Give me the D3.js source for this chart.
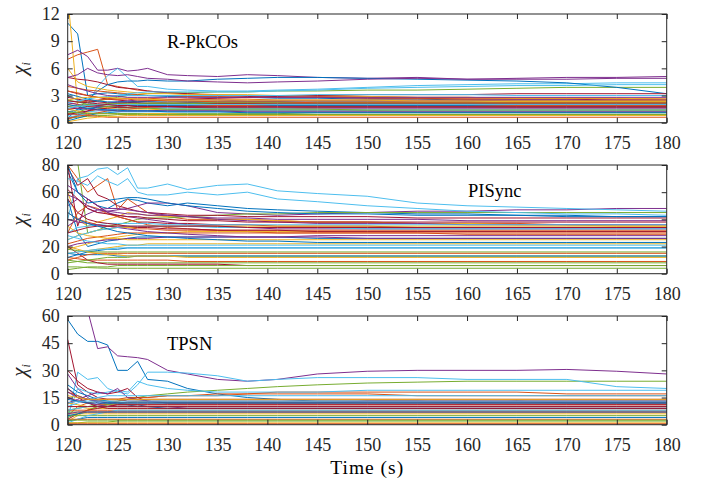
<!DOCTYPE html>
<html><head><meta charset="utf-8">
<script src="https://cdn.jsdelivr.net/npm/d3@7"></script>
<style>body{margin:0;background:#fff}svg{display:block}</style>
</head><body><svg id="c" width="710" height="479"></svg>
<script>
const times = [120,121,122,123,124,125,126,127,128,130,132,135,138,141,145,150,155,160,165,170,175,180];
const xTicks = [120,125,130,135,140,145,150,155,160,165,170,175,180];
const colors = ["#0072BD","#D95319","#EDB120","#7E2F8E","#77AC30","#4DBEEE","#A2142F"];
const panelNames = ["R-PkCOs","PISync","TPSN"];
const yTicks1 = [0,3,6,9,12];
const yTicks2 = [0,20,40,60,80];
const yTicks3 = [0,15,30,45,60];

const rpkcos = [
[11,9.8,3,3.2,3.3,3.2,3.1,3,3,2.9,2.9,2.8,2.8,2.7,2.7,2.6,2.6,2.5,2.5,2.5,2.4,2.4],
[7,7.5,7.8,8.1,4.2,4,3.8,3.6,3.5,3.3,3.2,3.1,3,3,2.9,2.9,2.8,2.8,2.7,2.7,2.7,2.6],
[14,2,1.8,1.7,1.6,1.6,1.5,1.5,1.5,1.4,1.4,1.4,1.3,1.3,1.3,1.3,1.2,1.2,1.2,1.2,1.2,1.2],
[7.5,8,7.3,5.8,5.8,6,5.7,5.8,6,5.3,5.2,5.1,5.3,5.2,5,4.9,5,4.8,4.9,5,5,5.1],
[3,2.5,2.2,2.4,2.6,2.8,3,3.1,3.2,3.3,3.3,3.4,3.4,3.5,3.5,3.6,3.6,3.7,3.8,3.9,3.9,3.9],
[1,1.5,2,4,5.2,6,5,4,4,3.7,3.6,3.5,3.5,3.6,3.7,3.9,4.1,4.2,4.3,4.3,4.4,4.4],
[5,4.8,4.7,4.5,4.2,3.9,3.8,3.7,3.5,3.3,3.2,3,2.9,2.8,2.8,2.7,2.7,2.6,2.6,2.6,2.5,2.5],
[0.5,1.5,2.5,3.5,4.2,4.5,4.6,4.6,4.7,4.6,4.6,4.8,4.9,5,5,4.9,4.8,4.7,4.6,4.4,3.9,3.2],
[4,3.8,3.6,3.5,3.4,3.3,3.2,3.1,3,3,2.9,2.9,2.8,2.8,2.8,2.8,2.7,2.7,2.7,2.7,2.6,2.6],
[6,4.5,4,3.8,3.6,3.5,3.4,3.3,3.2,3.2,3.1,3.1,3.1,3,3,2.9,2.8,2.8,2.7,2.7,2.7,2.6],
[5,5.3,6,5.5,5.3,5.2,5.3,5.1,4.9,4.8,4.6,4.5,4.4,4.5,4.6,4.8,4.9,4.8,4.8,4.8,4.9,4.9],
[1,1.2,1.5,1.7,1.8,1.9,2,2,2.1,2.1,2.2,2.2,2.2,2.2,2.3,2.3,2.3,2.3,2.3,2.3,2.3,2.3],
[3,2.5,2,2.4,2.8,3,3.2,3.3,3.4,3.4,3.4,3.4,3.4,3.5,3.6,3.8,3.9,4,4.1,4.1,4.2,4.2],
[3.5,3.2,3,2.8,2.6,2.5,2.4,2.3,2.3,2.2,2.2,2.1,2.1,2,2,2,2,2,2,2,2,2],
[1.2,1.4,1.6,1.7,1.8,1.8,1.9,1.9,1.9,1.9,1.9,1.9,1.9,1.9,1.9,1.9,1.9,1.9,1.9,1.9,1.9,1.9],
[2,2.2,2.4,2.5,2.6,2.6,2.7,2.7,2.7,2.6,2.6,2.6,2.6,2.5,2.5,2.5,2.5,2.5,2.4,2.4,2.4,2.4],
[0.3,0.8,1.2,1.5,1.7,1.9,2,2.1,2.2,2.2,2.3,2.4,2.4,2.4,2.4,2.4,2.3,2.3,2.3,2.3,2.3,2.3],
[2.2,2,1.9,1.8,1.8,1.8,1.7,1.7,1.7,1.7,1.7,1.6,1.6,1.6,1.6,1.6,1.6,1.6,1.6,1.6,1.6,1.6],
[0.5,0.6,0.7,0.8,0.8,0.9,0.9,0.9,1,1,1,1,1,1,1.1,1.1,1.1,1.1,1.1,1.1,1.1,1.1],
[0.8,1,1.2,1.3,1.4,1.5,1.5,1.6,1.6,1.6,1.6,1.6,1.6,1.6,1.7,1.7,1.7,1.7,1.7,1.7,1.7,1.7],
[2.8,2.6,2.4,2.3,2.2,2.2,2.2,2.2,2.1,2.1,2.1,2.1,2.1,2.1,2.1,2.1,2.1,2.1,2.1,2.1,2.1,2.1],
[0.2,0.5,0.8,1,1.1,1.2,1.3,1.3,1.3,1.4,1.4,1.4,1.4,1.4,1.4,1.4,1.4,1.4,1.4,1.4,1.4,1.4],
[1,0.9,0.8,0.7,0.6,0.6,0.6,0.6,0.6,0.6,0.6,0.6,0.6,0.6,0.6,0.6,0.6,0.6,0.6,0.6,0.6,0.6],
[1.5,1.3,1.1,1,1,1,1,1,1,1,0.9,0.9,0.9,0.9,0.9,0.9,0.9,0.9,0.9,0.9,0.9,0.9],
[0.4,0.8,1.3,1.8,2.1,2.3,2.4,2.5,2.5,2.5,2.5,2.5,2.4,2.4,2.4,2.4,2.4,2.4,2.5,2.5,2.5,2.5],
[2.5,2.3,2,1.9,1.8,1.7,1.7,1.6,1.6,1.5,1.5,1.5,1.5,1.5,1.5,1.4,1.4,1.4,1.4,1.4,1.4,1.4],
[0.6,0.8,1,1.1,1.2,1.2,1.2,1.2,1.2,1.2,1.2,1.2,1.2,1.2,1.2,1.2,1.2,1.2,1.2,1.2,1.2,1.2],
[1.5,1.6,1.8,1.9,2,2.1,2.2,2.3,2.4,2.5,2.6,2.7,2.8,2.9,3,3.1,3.1,3.1,3.2,3.2,3.2,3.2],
[3.2,2.9,2.6,2.4,2.3,2.3,2.3,2.3,2.3,2.3,2.3,2.3,2.3,2.3,2.2,2.2,2.2,2.2,2.2,2.2,2.2,2.2],
[0.5,0.7,0.9,1.1,1.3,1.4,1.5,1.6,1.7,1.8,1.8,1.9,1.9,2,2,2,2,2,1.9,1.9,1.9,1.9],
[0.1,0.3,0.5,0.6,0.7,0.7,0.8,0.8,0.8,0.8,0.8,0.8,0.8,0.8,0.8,0.8,0.8,0.8,0.8,0.8,0.8,0.8],
[1.8,1.6,1.5,1.4,1.4,1.3,1.3,1.3,1.3,1.3,1.3,1.3,1.2,1.2,1.2,1.2,1.2,1.2,1.2,1.2,1.2,1.2],
[1.8,1.9,2,2,2.1,2.1,2.1,2.1,2.1,2.1,2.1,2.2,2.2,2.2,2.2,2.2,2.2,2.2,2.2,2.2,2.2,2.2],
[2.2,2.4,2.6,2.8,2.9,3,3,3,3,3,3,3,3,3,3.1,3.1,3.1,3.1,3,3,3,3],
[0.9,1.1,1.3,1.5,1.6,1.7,1.7,1.8,1.8,1.8,1.8,1.8,1.8,1.8,1.8,1.8,1.8,1.8,1.8,1.8,1.8,1.8],
[2,1.8,1.6,1.5,1.4,1.4,1.3,1.3,1.3,1.2,1.2,1.2,1.1,1.1,1.1,1.1,1.1,1.1,1.1,1.1,1.1,1.1],
[3.5,3.3,3,2.8,2.7,2.6,2.6,2.5,2.5,2.4,2.4,2.3,2.3,2.3,2.2,2.2,2.2,2.2,2.2,2.2,2.2,2.2],
[2.5,2.7,2.8,2.8,2.8,2.7,2.7,2.6,2.6,2.5,2.5,2.5,2.5,2.5,2.5,2.5,2.4,2.4,2.4,2.4,2.4,2.4],
[4.2,3.8,3.5,3.2,3,2.9,2.8,2.8,2.8,2.8,2.8,2.8,2.8,2.8,2.8,2.8,2.8,2.8,2.8,2.8,2.8,2.8],
[1.2,1.1,1,1,1,1,1,1,0.9,0.9,0.9,0.9,0.9,0.9,0.9,0.9,0.9,0.9,0.9,0.9,0.9,0.9],
[1.6,1.8,1.9,2,2,2,2,2,2,2,2,2,2,2,2,2,2,2,2,2,2,2],
[2.4,2.3,2.2,2.1,2,1.9,1.9,1.8,1.8,1.8,1.7,1.7,1.7,1.7,1.7,1.7,1.7,1.7,1.7,1.7,1.7,1.7]
];

const pisync = [
[75,60,55,50,48,52,55,54,52,50,52,50,48,47,46,45,44,44,43,43,42,42],
[80,70,60,65,70,47,55,50,45,42,40,40,40,39,38,38,37,37,37,36,36,36],
[60,40,35,38,40,42,45,44,43,42,42,40,40,39,38,38,37,37,36,36,35,35],
[50,55,48,45,46,47,48,50,52,52,50,45,44,43,44,45,46,46,47,47,48,48],
[85,82,30,32,35,36,38,40,41,41,42,43,44,44,45,45,45,45,45,45,45,45],
[40,70,72,77,78,73,78,63,63,66,62,65,66,61,59,57,52,50,49,48,47,46],
[80,35,55,50,45,42,40,38,38,37,37,36,36,35,35,35,34,34,34,34,34,34],
[55,30,20,22,24,25,26,27,27,27,27,27,27,27,26,26,26,26,26,26,26,26],
[30,45,50,48,44,42,40,38,36,34,33,32,31,30,30,30,30,29,29,29,29,29],
[18,20,22,24,26,27,28,29,30,30,31,31,31,31,31,31,31,31,31,31,31,31],
[65,60,55,50,45,43,42,41,40,38,36,35,34,33,33,33,33,33,33,33,33,33],
[5,5,4.5,4.2,4,4,4,4,4,4,4,4,4,4,4,4,4,4,4,4,4,4],
[70,68,65,72,68,65,70,60,58,58,60,58,60,55,53,50,48,46,45,44,44,43],
[78,65,70,58,55,50,48,46,45,44,43,43,42,42,42,42,41,41,41,41,41,41],
[80,60,52,53,54,55,56,56,55,52,50,48,46,45,44,44,43,43,43,42,42,42],
[12,11,10,10,10,10,10,10,10,10,9,9,9,9,9,9,9,9,9,9,9,9],
[15,16,17,18,19,20,21,21,22,22,22,22,22,22,22,22,22,22,22,22,22,22],
[35,40,44,47,48,48,47,46,45,43,42,40,39,38,37,37,37,36,36,36,36,36],
[10,9,8,8,8,8,8,8,8,8,8,8,8,8,8,8,8,8,8,8,8,8],
[30,34,35,36,37,37,37,37,37,36,36,36,36,36,36,36,36,36,36,36,36,36],
[20,15,10,8,7,7,7,7,7,7,7,7,6,6,6,6,6,6,6,6,6,6],
[12,14,16,17,18,18,19,19,19,19,19,19,19,19,19,19,19,19,19,19,19,19],
[45,40,38,36,35,34,34,33,33,32,32,32,32,32,32,32,32,32,32,32,32,32],
[25,28,30,32,33,34,34,34,35,35,35,35,35,35,35,35,35,35,35,35,35,35],
[20,22,23,24,25,25,26,26,26,27,27,27,27,27,28,28,28,28,28,28,28,28],
[8,9,10,11,12,12,12,13,13,13,13,13,13,13,13,13,13,13,13,13,13,13],
[28,26,24,23,22,22,21,21,21,21,21,21,21,21,21,21,21,21,21,21,21,21],
[55,45,40,38,37,36,35,34,34,33,33,32,32,32,31,31,31,31,31,31,31,31],
[15,14,14,14,14,13,13,13,13,13,13,13,13,13,13,13,13,13,13,13,13,13],
[22,24,26,27,28,29,30,30,30,30,30,30,30,30,30,30,30,30,30,30,30,30],
[35,30,28,27,26,26,25,25,25,25,25,25,25,25,25,25,25,25,25,25,25,25],
[40,38,37,36,35,34,33,32,31,30,29,28,27,27,27,26,26,26,26,26,26,26],
[18,17,16,16,16,16,16,16,16,16,16,16,16,16,16,16,16,16,16,16,16,16],
[25,28,30,32,33,34,35,35,35,35,35,34,34,34,34,33,33,33,33,33,33,33],
[30,32,34,35,35,35,35,35,35,35,35,35,34,34,34,34,34,34,34,34,34,34],
[45,40,37,35,33,31,30,29,28,27,26,25,24,24,23,23,23,23,23,23,23,23],
[10,12,14,15,15,15,15,15,15,15,15,15,15,15,15,15,15,15,15,15,15,15],
[20,18,16,15,14,14,13,13,13,13,12,12,12,12,12,12,12,12,12,12,12,12],
[58,55,50,47,46,45,44,44,43,43,42,41,41,40,40,40,40,39,39,39,39,39],
[3,4,5,5,5,6,6,6,6,6,6,6,6,6,6,6,6,6,6,6,6,6],
[15,16,17,18,18,19,19,19,19,19,19,19,19,19,19,19,19,19,19,19,19,19],
[62,55,48,45,44,43,42,42,41,40,39,39,38,38,38,38,38,38,38,38,38,38]
];

const tpsn = [
[58,50,46,46,44,30,30,35,25,24,20,17,15,14,13,13,13,12,13,12,12,12],
[5,10,12,13,14,14,15,15,15,16,16,17,17,17,17,17,16,16,16,16,16,16],
[2,5,8,10,11,12,12,13,13,13,13,13,13,13,13,13,13,13,13,13,13,13],
[110,85,63,42,43,38,37.5,37,36,30,28,25,24,25,28,29.5,30,30,30,30.5,29.5,28],
[8,9,10,11,12,13,14,15,16,17,18,19,20,21,22,23,23.5,24,24,24,24,24],
[2,29,25,26,20,18,17,22,29,29,28.5,27,24,25,26,26,26,25,25,25,21,20],
[47,22,18,15,14,14,13,13,13,12,12,12,12,12,12,12,12,12,12,12,12,12],
[20,16,14,13,12,11,11,10,10,10,10,10,10,10,10,10,10,10,10,10,10,10],
[18,16,14,13,13,13,14,15,15,16,16,16,17,18,18,18,18,18,18,17,17,17],
[10,10,9,9,9,9,9,9,9,9,9,9,9,9,9,9,9,9,9,9,9,9],
[28,20,15,12,11,10,10,10,10,10,9,9,9,9,9,9,9,9,9,9,9,9],
[1,1,1.5,1.5,1.5,2,2,2,2,2,2,2,2,2,2,2,2,2,2,2,2,2],
[5,20,18,17,18,19,18,24,22,20,19,18,18,18,18,19,19,19,19,19,19,19],
[30,24,20,18,17,18,20,15,13,12,12,12,12,12,12,13,13,13,13,13,13,13],
[22,18,16,14,13,12,11,11,10,9,9,9,9,9,9,9,9,9,9,9,9,9],
[15,13,12,11,11,11,11,11,11,11,11,11,11,11,11,11,11,11,11,11,11,11],
[12,11,10,10,10,10,10,10,10,10,10,10,10,10,10,10,10,10,10,10,10,10],
[12,14,16,18,17,20,15,14,13,13,13,13,13,13,13,13,13,13,13,13,13,13],
[4,6,8,10,11,12,12,12,12,12,12,12,12,12,12,12,12,12,12,12,12,12],
[10,12,14,15,16,16,16,16,16,16,16,16,16,16,16,16,16,16,16,16,16,16],
[3,6,8,9,10,11,11,11,11,11,11,11,11,11,11,11,11,11,11,11,11,11],
[2,3,4,4,4,4,4,4,4,4,4,4,4,4,4,4,4,4,4,4,4,4],
[8,8,8,8,8,8,8,8,8,8,8,8,8,8,8,8,8,8,8,8,8,8],
[6,6,6,6,6,6,6,6,6,6,6,6,6,6,6,6,6,6,6,6,6,6],
[15,13,12,11,10,10,10,10,10,10,10,10,10,10,10,10,10,10,10,10,10,10],
[5,5,5,5,5,5,5,5,5,5,5,5,5,5,5,5,5,5,5,5,5,5],
[1,3,5,6,7,8,8,8,8,8,8,8,8,8,8,8,8,8,8,8,8,8],
[20,15,12,10,9,9,9,9,9,9,9,9,9,9,9,9,9,9,9,9,9,9],
[5,6,7,7,7,7,7,7,7,7,7,7,7,7,7,7,7,7,7,7,7,7],
[3,3,3,3,3,3,3,3,3,3,3,3,3,3,3,3,3,3,3,3,3,3],
[1,1,1,1,1,1,1,1,1,1,1,1,1,1,1,1,1,1,1,1,1,1],
[18,15,14,13,12,12,12,12,12,12,12,12,12,12,12,12,12,12,12,12,12,12],
[7,7,7,7,7,7,7,7,7,7,7,7,7,7,7,7,7,7,7,7,7,7],
[8,9,10,10,10,10,10,10,10,10,10,10,10,10,10,10,10,10,10,10,10,10],
[12,13,14,14,14,14,14,14,14,14,14,14,14,14,14,14,14,14,14,14,14,14],
[14,13,12,12,12,12,12,12,12,12,12,12,12,12,12,12,12,12,12,12,12,12],
[0.5,0.5,0.5,0.5,0.5,0.5,0.5,0.5,0.5,0.5,0.5,0.5,0.5,0.5,0.5,0.5,0.5,0.5,0.5,0.5,0.5,0.5],
[16,15,14,14,14,14,14,14,14,14,14,14,14,14,14,14,14,14,14,14,14,14],
[6,7,7,7,7,7,7,7,7,7,7,7,7,7,7,7,7,7,7,7,7,7],
[2.5,2.5,2.5,2.5,2.5,2.5,2.5,2.5,2.5,2.5,2.5,2.5,2.5,2.5,2.5,2.5,2.5,2.5,2.5,2.5,2.5,2.5],
[12,13,13,13,13,13,13,13,13,13,13,13,13,13,13,13,13,13,13,13,13,13],
[10,10,10,10,10,10,10,10,10,10,10,10,10,10,10,10,10,10,10,10,10,10]
];

const svg = d3.select("#c");
const L = 67.7, R = 666.7, H = 108.7;
const tops = [14, 165, 316];
const x = d3.scaleLinear().domain([120,180]).range([L,R]);
const panels = [
  {name: panelNames[0], data: rpkcos, ticks: yTicks1, tx: 167, ty: 48},
  {name: panelNames[1], data: pisync, ticks: yTicks2, tx: 468, ty: 197},
  {name: panelNames[2], data: tpsn, ticks: yTicks3, tx: 167, ty: 350}
];
const axCol = "#262626";
const font = "'Liberation Serif','Times New Roman',serif";

panels.forEach((p, k) => {
  const top = tops[k], bot = top + H;
  const y = d3.scaleLinear().domain([p.ticks[0], p.ticks[p.ticks.length-1]]).range([bot, top]);
  const g = svg.append("g");
  g.append("clipPath").attr("id","cp"+k).append("rect").attr("x",L).attr("y",top).attr("width",R-L).attr("height",H);
  const line = d3.line().x((d,i)=>x(times[i])).y(d=>y(d));
  g.append("g").attr("clip-path","url(#cp"+k+")")
    .selectAll("path").data(p.data).join("path")
    .attr("d", line).attr("fill","none")
    .attr("stroke",(d,i)=>colors[i%7]).attr("stroke-width",1);
  g.append("rect").attr("x",L).attr("y",top).attr("width",R-L).attr("height",H)
    .attr("fill","none").attr("stroke",axCol).attr("stroke-width",1);
  const xb = d3.axisBottom(x).tickValues(xTicks).tickSize(-5).tickPadding(14).tickFormat(d3.format("d"));
  const xt = d3.axisTop(x).tickValues(xTicks).tickSize(-5).tickFormat("");
  const yl = d3.axisLeft(y).tickValues(p.ticks).tickSize(-5).tickPadding(8);
  const yr = d3.axisRight(y).tickValues(p.ticks).tickSize(-5).tickFormat("");
  [[xb,`translate(0,${bot})`],[xt,`translate(0,${top})`],[yl,`translate(${L},0)`],[yr,`translate(${R},0)`]].forEach(([ax,tr])=>{
    const a = g.append("g").attr("transform",tr).call(ax);
    a.select(".domain").remove();
    a.selectAll("line").attr("stroke",axCol);
    a.selectAll("text").attr("fill",axCol).style("font-family",font).style("font-size","18px");
  });
  g.append("text").attr("x",p.tx).attr("y",p.ty).text(p.name)
    .style("font-family",font).style("font-size","18.5px").attr("fill","#000");
  const yl2 = g.append("text").attr("transform",`translate(26,${(top+bot)/2}) rotate(-90)`)
    .attr("text-anchor","middle").style("font-family",font).style("font-size","21px").attr("fill",axCol);
  yl2.append("tspan").style("font-style","italic").text("χ");
  yl2.append("tspan").attr("dy",4).style("font-size","12px").style("font-style","italic").text("i");
});

svg.append("text").attr("x",(L+R)/2).attr("y",474).attr("text-anchor","middle")
  .style("font-family",font).style("font-size","19.5px").style("letter-spacing","1px")
  .attr("fill","#000").text("Time (s)");
</script></body></html>
